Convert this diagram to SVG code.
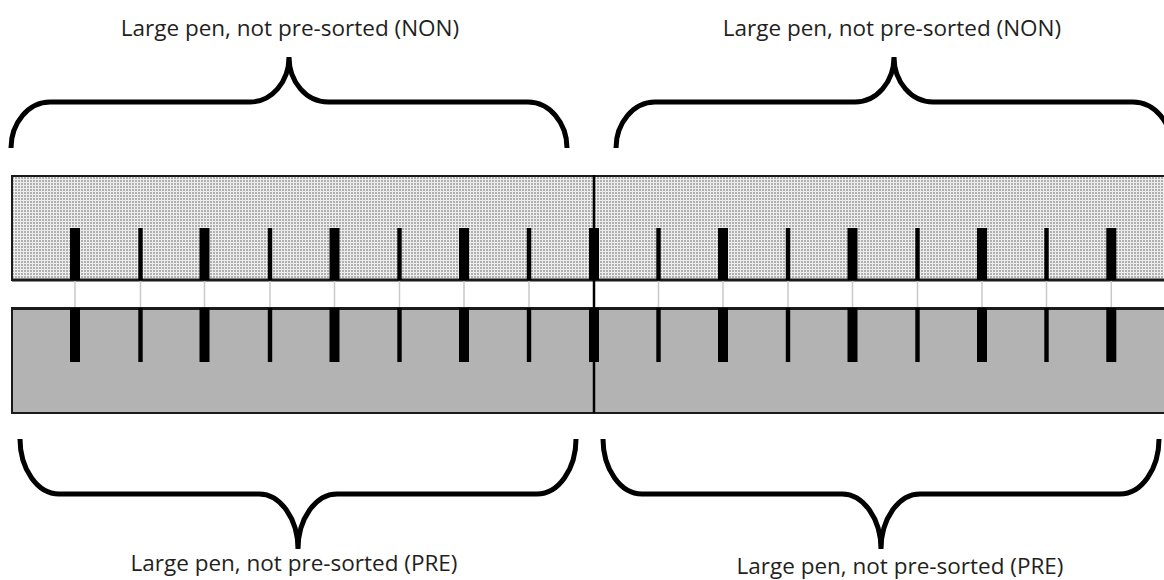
<svg xmlns="http://www.w3.org/2000/svg" width="1164" height="580" viewBox="0 0 1164 580">
<style>
.lbl{font-family:"Open Sans","Liberation Sans",sans-serif;font-size:22.5px;fill:#231f20;text-anchor:middle}
.brace{fill:none;stroke:#000;stroke-width:5;stroke-linecap:butt;stroke-linejoin:miter}
.edge{stroke:#1a1a1a;fill:none}
.guide{stroke:#c8c8c8;stroke-width:1.5}
.thick{fill:#000}
</style>
<defs>
<pattern id="mesh" width="3" height="3" patternUnits="userSpaceOnUse">
<rect width="3" height="3" fill="#ececec"/>
<rect x="0" y="0" width="2" height="2" fill="#b0b0b0"/>
</pattern>
</defs>
<rect width="1164" height="580" fill="#fff"/>

<g id="top-band">
<rect x="12" y="176" width="1160" height="104" fill="url(#mesh)"/>
<line class="edge" x1="12" y1="176" x2="1164" y2="176" stroke-width="2"/>
<line class="edge" x1="12" y1="280" x2="1164" y2="280" stroke-width="3"/>
<line class="edge" x1="12" y1="175" x2="12" y2="281" stroke-width="2"/>
</g>

<g id="gap-guides">
<line class="guide" x1="75" y1="281" x2="75" y2="308"/>
<line class="guide" x1="140.5" y1="281" x2="140.5" y2="308"/>
<line class="guide" x1="204.5" y1="281" x2="204.5" y2="308"/>
<line class="guide" x1="270" y1="281" x2="270" y2="308"/>
<line class="guide" x1="334.5" y1="281" x2="334.5" y2="308"/>
<line class="guide" x1="399.5" y1="281" x2="399.5" y2="308"/>
<line class="guide" x1="464" y1="281" x2="464" y2="308"/>
<line class="guide" x1="529" y1="281" x2="529" y2="308"/>
<line class="guide" x1="594" y1="281" x2="594" y2="308"/>
<line class="guide" x1="658.5" y1="281" x2="658.5" y2="308"/>
<line class="guide" x1="723" y1="281" x2="723" y2="308"/>
<line class="guide" x1="788" y1="281" x2="788" y2="308"/>
<line class="guide" x1="852.5" y1="281" x2="852.5" y2="308"/>
<line class="guide" x1="917.5" y1="281" x2="917.5" y2="308"/>
<line class="guide" x1="982" y1="281" x2="982" y2="308"/>
<line class="guide" x1="1046.5" y1="281" x2="1046.5" y2="308"/>
<line class="guide" x1="1111.3" y1="281" x2="1111.3" y2="308"/>
</g>

<g id="bottom-band">
<rect x="12" y="308" width="1160" height="105" fill="#b3b3b3"/>
<line class="edge" x1="12" y1="308.5" x2="1164" y2="308.5" stroke-width="3"/>
<line class="edge" x1="12" y1="413" x2="1164" y2="413" stroke-width="2"/>
<line class="edge" x1="12" y1="307" x2="12" y2="414" stroke-width="2"/>
</g>

<g id="divider">
<line x1="594" y1="175" x2="594" y2="413" stroke="#000" stroke-width="2.5"/>
</g>

<g id="top-bars">
<rect class="thick" x="70" y="228" width="10" height="52"/>
<rect class="thick" x="138.3" y="228" width="4.4" height="52"/>
<rect class="thick" x="199.5" y="228" width="10" height="52"/>
<rect class="thick" x="267.8" y="228" width="4.4" height="52"/>
<rect class="thick" x="329.5" y="228" width="10" height="52"/>
<rect class="thick" x="397.3" y="228" width="4.4" height="52"/>
<rect class="thick" x="459" y="228" width="10" height="52"/>
<rect class="thick" x="526.8" y="228" width="4.4" height="52"/>
<rect class="thick" x="589" y="228" width="10" height="52"/>
<rect class="thick" x="656.3" y="228" width="4.4" height="52"/>
<rect class="thick" x="718" y="228" width="10" height="52"/>
<rect class="thick" x="785.8" y="228" width="4.4" height="52"/>
<rect class="thick" x="847.5" y="228" width="10" height="52"/>
<rect class="thick" x="915.3" y="228" width="4.4" height="52"/>
<rect class="thick" x="977" y="228" width="10" height="52"/>
<rect class="thick" x="1044.3" y="228" width="4.4" height="52"/>
<rect class="thick" x="1106.3" y="228" width="10" height="52"/>
</g>

<g id="bottom-bars">
<rect class="thick" x="70" y="308" width="10" height="54"/>
<rect class="thick" x="138.3" y="308" width="4.4" height="54"/>
<rect class="thick" x="199.5" y="308" width="10" height="54"/>
<rect class="thick" x="267.8" y="308" width="4.4" height="54"/>
<rect class="thick" x="329.5" y="308" width="10" height="54"/>
<rect class="thick" x="397.3" y="308" width="4.4" height="54"/>
<rect class="thick" x="459" y="308" width="10" height="54"/>
<rect class="thick" x="526.8" y="308" width="4.4" height="54"/>
<rect class="thick" x="589" y="308" width="10" height="54"/>
<rect class="thick" x="656.3" y="308" width="4.4" height="54"/>
<rect class="thick" x="718" y="308" width="10" height="54"/>
<rect class="thick" x="785.8" y="308" width="4.4" height="54"/>
<rect class="thick" x="847.5" y="308" width="10" height="54"/>
<rect class="thick" x="915.3" y="308" width="4.4" height="54"/>
<rect class="thick" x="977" y="308" width="10" height="54"/>
<rect class="thick" x="1044.3" y="308" width="4.4" height="54"/>
<rect class="thick" x="1106.3" y="308" width="10" height="54"/>
</g>

<g id="brace-top-left">
<path class="brace" d="M11,148 C11,123 28.5,102 50,102 L250,102 C271.5,102 289,82 289,57 C289,82 306.5,102 328,102 L528,102 C549.5,102 567,123 567,148"/>
<text class="lbl" x="290" y="36">Large pen, not pre-sorted (NON)</text>
</g>

<g id="brace-top-right">
<path class="brace" d="M616,148 C616,123 633.5,102 655,102 L855,102 C876.5,102 894,82 894,57 C894,82 911.5,102 933,102 L1133,102 C1154.5,102 1172,123 1172,148"/>
<text class="lbl" x="892" y="36">Large pen, not pre-sorted (NON)</text>
</g>

<g id="brace-bottom-left">
<path class="brace" d="M20,439 C20,469 37.5,494 59,494 L259,494 C280.5,494 298,519 298,549 C298,519 315.5,494 337,494 L537,494 C558.5,494 576,469 576,439"/>
<text class="lbl" x="294" y="571">Large pen, not pre-sorted (PRE)</text>
</g>

<g id="brace-bottom-right">
<path class="brace" d="M603,439 C603,469 620.5,494 642,494 L842,494 C863.5,494 881,519 881,549 C881,519 898.5,494 920,494 L1120,494 C1141.5,494 1159,469 1159,439"/>
<text class="lbl" x="900" y="574">Large pen, not pre-sorted (PRE)</text>
</g>
</svg>
